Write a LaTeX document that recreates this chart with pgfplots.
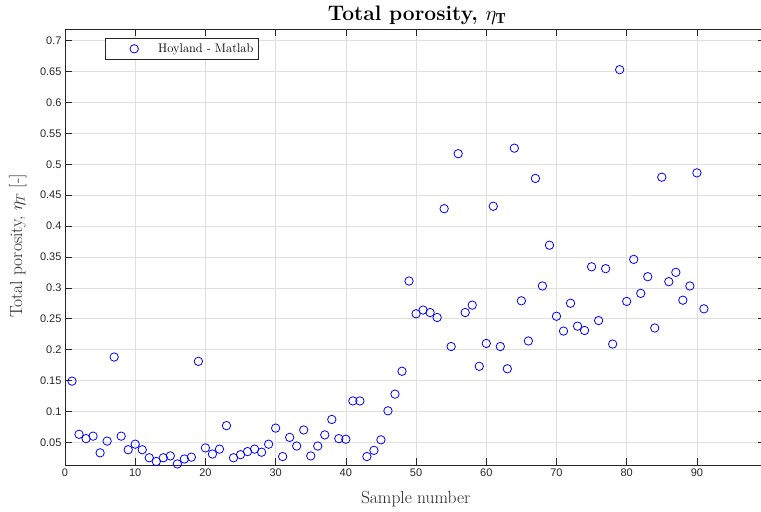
\documentclass[border=0pt]{standalone}
\usepackage{pgfplots}
\pgfplotsset{compat=1.18}
\usepackage{amsmath}
\usepackage{fontspec}
\newfontfamily\ticksans{Liberation Sans}
\definecolor{axgray}{HTML}{262626}
\definecolor{gridgray}{HTML}{DFDFDF}
\definecolor{mblue}{HTML}{0000FF}

\begin{document}
\begin{tikzpicture}
\begin{axis}[
  scale only axis,
  width=700pt, height=435.5pt,
  xmin=0, xmax=99.7,
  ymin=0.0133, ymax=0.718,
  xtick={0,10,20,30,40,50,60,70,80,90},
  xticklabels={0,10,20,30,40,50,60,70,80,90},
  ytick={0.05,0.1,0.15,0.2,0.25,0.3,0.35,0.4,0.45,0.5,0.55,0.6,0.65,0.7},
  yticklabels={0.05,0.1,0.15,0.2,0.25,0.3,0.35,0.4,0.45,0.5,0.55,0.6,0.65,0.7},
  /pgf/number format/assume math mode=true,
  tick label style={font=\ticksans\fontsize{11}{13}\selectfont, text=axgray},
  grid=major,
  major grid style={gridgray, line width=0.6pt},
  axis line style={axgray, line width=0.6pt},
  tick style={axgray, line width=0.6pt},
  tick align=inside,
  major tick length=7pt,
  xlabel={Sample number},
  ylabel={Total porosity, $\eta_T$ [-]},
  label style={font=\fontsize{17.5}{20}\selectfont, text=axgray},
  xlabel style={at={(axis description cs:0.501,-0.0873)}, anchor=base},
  ylabel style={at={(axis description cs:-0.0614,0.503)}, anchor=base},
  title={\textbf{Total porosity, $\eta_{\mathbf{T}}$}},
  title style={font=\fontsize{21}{25}\selectfont, at={(axis description cs:0.503,1.0235)}, anchor=base, yshift=-7pt},
  legend style={
    at={(0.0571,0.9805)}, anchor=north west,
    draw=axgray, line width=0.5pt,
    font=\fontsize{12.5}{15}\selectfont,
    inner xsep=2pt, inner ysep=2.5pt,
    nodes={inner xsep=3pt, inner ysep=3pt},
  },
  legend cell align=left,
  legend image code/.code={
    \path[draw=none] (0pt,0pt) -- (48pt,0pt);
    \draw[mark=o, mark size=4.2pt, draw=mblue, line width=0.8pt] plot coordinates {(27pt,0pt)};
  },
]
\addplot[only marks, mark=o, mark size=4.2pt, mark options={draw=mblue, line width=0.8pt}]
  table[x=n, y=eta] {
n eta
1 0.149
2 0.063
3 0.056
4 0.060
5 0.033
6 0.052
7 0.188
8 0.060
9 0.038
10 0.047
11 0.038
12 0.025
13 0.019
14 0.025
15 0.028
16 0.015
17 0.023
18 0.026
19 0.181
20 0.041
21 0.031
22 0.039
23 0.077
24 0.025
25 0.030
26 0.035
27 0.039
28 0.034
29 0.047
30 0.073
31 0.027
32 0.058
33 0.044
34 0.070
35 0.028
36 0.044
37 0.062
38 0.087
39 0.056
40 0.055
41 0.117
42 0.117
43 0.027
44 0.037
45 0.054
46 0.101
47 0.128
48 0.165
49 0.311
50 0.258
51 0.264
52 0.260
53 0.252
54 0.428
55 0.205
56 0.517
57 0.260
58 0.272
59 0.173
60 0.210
61 0.432
62 0.205
63 0.169
64 0.526
65 0.279
66 0.214
67 0.477
68 0.303
69 0.369
70 0.254
71 0.230
72 0.275
73 0.238
74 0.231
75 0.334
76 0.247
77 0.331
78 0.209
79 0.653
80 0.278
81 0.346
82 0.291
83 0.318
84 0.235
85 0.479
86 0.310
87 0.325
88 0.280
89 0.303
90 0.486
91 0.266
};
\addlegendentry{Hoyland - Matlab}
\coordinate (bl) at (rel axis cs:0,0);
\coordinate (tr) at (rel axis cs:1,1);
\end{axis}
\pgfresetboundingbox
\path ([shift={(-65pt,-46pt)}]bl) rectangle ([shift={(-4pt,29.5pt)}]tr);
\end{tikzpicture}
\end{document}
